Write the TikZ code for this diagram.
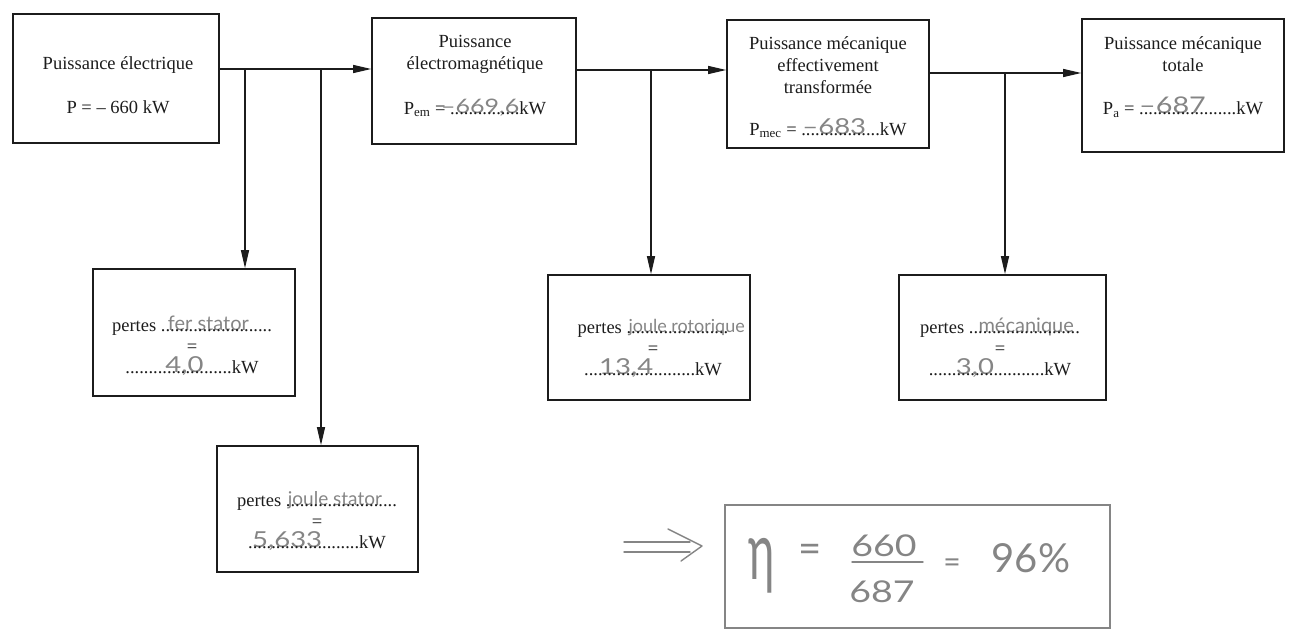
\documentclass[tikz,border=0pt]{standalone}
\usepackage{fontspec}
\usepackage{graphicx}
\setmainfont{Liberation Serif}
\newfontfamily\handfont{Lato}
\newfontfamily\handnum{Lato}[FakeStretch=1.25]
\usetikzlibrary{arrows.meta}
\definecolor{ink}{HTML}{1C1C1C}
\definecolor{pencil}{HTML}{858585}
\newcommand\dotrun[1]{\foreach\k in {1,...,#1}{.}}
% #1 dots, #2 offset, #3 size, #4 handwritten words
\newcommand\answ[4]{\rlap{\hspace*{#2}\smash{\raisebox{1pt}{\color{pencil}\handfont\fontsize{#3}{#3}\selectfont #4}}}\dotrun{#1}}
% same for handwritten numbers
\newcommand\ansn[4]{\rlap{\hspace*{#2}\smash{\raisebox{1pt}{\color{pencil}\handnum\fontsize{#3}{#3}\selectfont #4}}}\dotrun{#1}}
\begin{document}
\begin{tikzpicture}[x=1pt,y=-1pt,
  box/.style={draw=ink,line width=1.6pt,inner sep=0pt},
  conn/.style={draw=ink,line width=1.2pt,-{Triangle[length=18pt,width=8pt]}},
  txt/.style={text=ink,align=center,inner sep=0pt,font=\fontsize{18.5}{22}\selectfont},
  low/.style={text=ink,align=center,inner sep=0pt,font=\fontsize{18.5}{21}\selectfont},
  pen/.style={draw=pencil,line width=1.4pt,line cap=round,line join=round},
  hand/.style={text=pencil,inner sep=0pt}]
\useasboundingbox (0,0) rectangle (1295,642);

% top row
\node[box,minimum width=206,minimum height=129] (pe) at (116,78.5) {};
\node[txt] (pet) at (118,85) {Puissance électrique\\[22pt]P = – 660 kW};

\node[box,minimum width=204,minimum height=126] (pem) at (474,81) {};
\node[txt] (pemt) at (475,76) {Puissance\\électromagnétique\\[23pt]P\textsubscript{em} = \ansn{15}{-9pt}{20}{–669,6}kW};

\node[box,minimum width=202,minimum height=128] (pmec) at (828,84) {};
\node[txt] (pmect) at (828,87) {Puissance mécanique\\effectivement\\transformée\\[20pt]P\textsubscript{mec} = \ansn{17}{1pt}{22}{–683}kW};

\node[box,minimum width=202,minimum height=133] (pa) at (1183,85.5) {};
\node[txt] (pat) at (1183,77) {Puissance mécanique\\totale\\[21pt]P\textsubscript{a} = \ansn{21}{0pt}{23}{–687}kW};

% loss boxes
\node[box,minimum width=202,minimum height=127] (fer) at (194,332.5) {};
\node[low] (fert) at (192,347) {pertes \answ{24}{7pt}{20}{fer stator}\\=\\\ansn{23}{40pt}{22}{4,0}kW};

\node[box,minimum width=201,minimum height=126] (js) at (317.5,509) {};
\node[low] (jst) at (317,522) {pertes \answ{24}{2pt}{19}{joule stator}\\=\\\ansn{24}{4pt}{22}{5,633}kW};

\node[box,minimum width=202,minimum height=125] (jr) at (649,337.5) {};
\node[low] (jrt) at (653,349) {pertes \answ{22}{2pt}{18}{joule rotorique}\\=\\\ansn{24}{15pt}{22}{13,4}kW};

\node[box,minimum width=207,minimum height=125] (mec) at (1002.5,337.5) {};
\node[low] (mect) at (1000,349) {pertes .\answ{23}{5pt}{20}{mécanique}\\=\\\ansn{25}{27pt}{22}{3,0}kW};

% connectors
\coordinate (h1) at (0,69);
\coordinate (h2) at (0,70);
\coordinate (h3) at (0,73);
\draw[conn] (pe.east |- h1) -- (pem.west |- h1);
\draw[conn] (pem.east |- h2) -- (pmec.west |- h2);
\draw[conn] (pmec.east |- h3) -- (pa.west |- h3);
\coordinate (b1) at (245,69);
\coordinate (b2) at (321,69);
\coordinate (b3) at (651,70);
\coordinate (b4) at (1005,73);
\draw[conn] (b1) -- (b1 |- fer.north);
\draw[conn] (b2) -- (b2 |- js.north);
\draw[conn] (b3) -- (b3 |- jr.north);
\draw[conn] (b4) -- (b4 |- mec.north);

% efficiency (pencil)
\draw[pen] (624,542) -- (690,542);
\draw[pen] (624,552) -- (690,552);
\draw[pen] (668,529) -- (702,546) -- (681,561);
\node[draw=pencil,line width=1.4pt,minimum width=385,minimum height=123,inner sep=0pt] (eff) at (917.5,566.5) {};
\node[hand,font=\handfont\fontsize{50}{50}\selectfont] (eta) at (762,566) {\scalebox{0.9}[1.6]{η}};
\node[hand,font=\handfont\fontsize{40}{40}\selectfont] (eq1) at (810,553) {=};
\node[hand,font=\handnum\fontsize{30}{30}\selectfont] (num) at (884,546) {660};
\node[hand,font=\handnum\fontsize{30}{30}\selectfont] (den) at (882,592) {687};
\draw[pen] (852,562) -- (923,562);
\node[hand,font=\handfont\fontsize{30}{30}\selectfont] (eq2) at (952,566) {=};
\node[hand,font=\handfont\fontsize{40}{40}\selectfont] (pct) at (1031,558) {96\%};
\end{tikzpicture}
\end{document}
